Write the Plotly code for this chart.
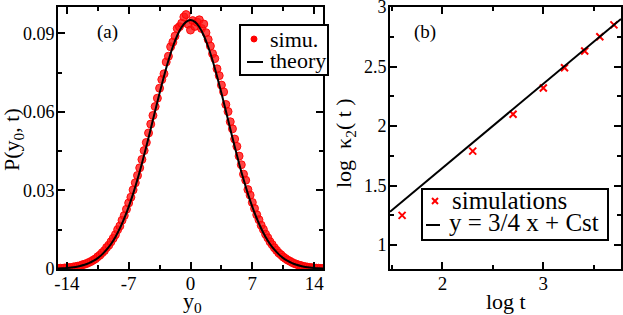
import plotly.graph_objects as go

# ---------------- Panel (a) data ----------------
sim_x = [-15.0, -14.75, -14.5, -14.25, -14.0, -13.75, -13.5, -13.25, -13.0, -12.75,
         -12.5, -12.25, -12.0, -11.75, -11.5, -11.25, -11.0, -10.75, -10.5, -10.25,
         -10.0, -9.75, -9.5, -9.25, -9.0, -8.75, -8.5, -8.25, -8.0, -7.75,
         -7.5, -7.25, -7.0, -6.75, -6.5, -6.25, -6.0, -5.75, -5.5, -5.25,
         -5.0, -4.75, -4.5, -4.25, -4.0, -3.75, -3.5, -3.25, -3.0, -2.75,
         -2.5, -2.25, -2.0, -1.75, -1.5, -1.25, -1.0, -0.75, -0.5, -0.25,
         0.0, 0.25, 0.5, 0.75, 1.0, 1.25, 1.5, 1.75, 2.0, 2.25,
         2.5, 2.75, 3.0, 3.25, 3.5, 3.75, 4.0, 4.25, 4.5, 4.75,
         5.0, 5.25, 5.5, 5.75, 6.0, 6.25, 6.5, 6.75, 7.0, 7.25,
         7.5, 7.75, 8.0, 8.25, 8.5, 8.75, 9.0, 9.25, 9.5, 9.75,
         10.0, 10.25, 10.5, 10.75, 11.0, 11.25, 11.5, 11.75, 12.0, 12.25,
         12.5, 12.75, 13.0, 13.25, 13.5, 13.75, 14.0, 14.25, 14.5, 14.75, 15.0]
sim_y = [0.0002, 0.0003, 0.0002, 0.0004, 0.0004, 0.0006, 0.0005, 0.0008, 0.0009, 0.0011,
         0.0012, 0.0016, 0.0018, 0.0021, 0.0025, 0.0029, 0.0034, 0.0039, 0.0047, 0.0053,
         0.0062, 0.0070, 0.0082, 0.0091, 0.0104, 0.0117, 0.0131, 0.0150, 0.0164, 0.0186,
         0.0204, 0.0228, 0.0252, 0.0274, 0.0302, 0.0329, 0.0357, 0.0386, 0.0418, 0.0452,
         0.0483, 0.0519, 0.0553, 0.0586, 0.0620, 0.0652, 0.0690, 0.0723, 0.0745, 0.0790,
         0.0812, 0.0848, 0.0866, 0.0889, 0.0918, 0.0925, 0.0938, 0.0962, 0.0971, 0.0934,
         0.0912, 0.0948, 0.0926, 0.0942, 0.0951, 0.0918, 0.0935, 0.0902, 0.0876, 0.0851,
         0.0822, 0.0803, 0.0764, 0.0738, 0.0702, 0.0676, 0.0628, 0.0601, 0.0562, 0.0535,
         0.0496, 0.0468, 0.0431, 0.0398, 0.0362, 0.0339, 0.0303, 0.0282, 0.0254, 0.0231,
         0.0207, 0.0188, 0.0167, 0.0151, 0.0133, 0.0119, 0.0104, 0.0093, 0.0081, 0.0071,
         0.0061, 0.0054, 0.0046, 0.0040, 0.0034, 0.0030, 0.0025, 0.0021, 0.0018, 0.0015,
         0.0013, 0.0010, 0.0009, 0.0007, 0.0006, 0.0005, 0.0004, 0.0003, 0.0003, 0.0002, 0.0002]

theory_x = [-15.0, -14.5, -14.0, -13.5, -13.0, -12.5, -12.0, -11.5, -11.0, -10.5,
            -10.0, -9.5, -9.0, -8.5, -8.0, -7.5, -7.0, -6.5, -6.0, -5.5,
            -5.0, -4.5, -4.0, -3.5, -3.0, -2.5, -2.0, -1.5, -1.0, -0.5,
            0.0, 0.5, 1.0, 1.5, 2.0, 2.5, 3.0, 3.5, 4.0, 4.5,
            5.0, 5.5, 6.0, 6.5, 7.0, 7.5, 8.0, 8.5, 9.0, 9.5,
            10.0, 10.5, 11.0, 11.5, 12.0, 12.5, 13.0, 13.5, 14.0, 14.5, 15.0]
theory_y = [0.00016, 0.00025, 0.00037, 0.00054, 0.00079, 0.00113, 0.00160, 0.00224, 0.00308, 0.00417,
            0.00558, 0.00736, 0.00956, 0.01226, 0.01548, 0.01929, 0.02369, 0.02868, 0.03424, 0.04030,
            0.04677, 0.05351, 0.06036, 0.06713, 0.07361, 0.07958, 0.08482, 0.08913, 0.09235, 0.09433,
            0.09500, 0.09433, 0.09235, 0.08913, 0.08482, 0.07958, 0.07361, 0.06713, 0.06036, 0.05351,
            0.04677, 0.04030, 0.03424, 0.02868, 0.02369, 0.01929, 0.01548, 0.01226, 0.00956, 0.00736,
            0.00558, 0.00417, 0.00308, 0.00224, 0.00160, 0.00113, 0.00079, 0.00054, 0.00037, 0.00025, 0.00016]

a_xtick_vals = [-14, -7, 0, 7, 14]
a_xtick_text = ["-14", "-7", "0", "7", "14"]
a_ytick_vals = [0, 0.03, 0.06, 0.09]
a_ytick_text = ["0", "0.03", "0.06", "0.09"]
a_legend_labels = ["simu.", "theory"]

# ---------------- Panel (b) data ----------------
sim_logt = [1.60, 2.30, 2.70, 3.00, 3.21, 3.41, 3.56, 3.70]
sim_logk = [1.25, 1.79, 2.10, 2.32, 2.49, 2.63, 2.75, 2.85]
fit_logt = [1.48, 3.77]
fit_logk = [1.28, 2.90]

b_xtick_vals = [2, 3]
b_xtick_text = ["2", "3"]
b_ytick_vals = [1, 1.5, 2, 2.5, 3]
b_ytick_text = ["1", "1.5", "2", "2.5", "3"]
b_legend_labels = ["simulations", "y = 3/4 x + Cst"]

FONT = "Liberation Serif, Times New Roman, serif"
W, H = 623, 315


def px(x):
    return x / W


def py(y):
    return 1 - y / H


fig = go.Figure()

fig.add_trace(go.Scatter(
    x=sim_x, y=sim_y, mode="markers", name=a_legend_labels[0], showlegend=False,
    marker=dict(symbol="circle", size=8, color="rgba(255,20,20,0.8)",
                line=dict(color="rgba(255,0,0,0.9)", width=1)),
    xaxis="x", yaxis="y"))
fig.add_trace(go.Scatter(
    x=theory_x, y=theory_y, mode="lines", name=a_legend_labels[1], showlegend=False,
    line_shape="spline", line=dict(color="black", width=2), xaxis="x", yaxis="y"))

fig.add_trace(go.Scatter(
    x=sim_logt, y=sim_logk, mode="markers", name=b_legend_labels[0], showlegend=False,
    marker=dict(symbol="x-thin", size=7, color="red", line=dict(color="red", width=2)),
    xaxis="x2", yaxis="y2"))
fig.add_trace(go.Scatter(
    x=fit_logt, y=fit_logk, mode="lines", name=b_legend_labels[1], showlegend=False,
    line=dict(color="black", width=2), xaxis="x2", yaxis="y2"))

axis_common = dict(
    showline=True, linecolor="black", linewidth=2, mirror="allticks",
    ticks="inside", ticklen=7, tickwidth=1.5, tickcolor="black",
    showgrid=False, zeroline=False, automargin=False, ticklabeloverflow="allow",
)
xfont = dict(family=FONT, size=19, color="black")
yfont = dict(family=FONT, size=18, color="black")

ydom = [py(269), py(7)]

shapes = [
    # legend (a) box and symbols
    dict(type="rect", xref="paper", yref="paper", x0=px(240), x1=px(328), y0=py(75), y1=py(25),
         line=dict(color="black", width=2), fillcolor="white", layer="above"),
    dict(type="circle", xref="paper", yref="paper", x0=px(251), x1=px(257), y0=py(42), y1=py(36),
         line=dict(color="red", width=1), fillcolor="red", layer="above"),
    dict(type="line", xref="paper", yref="paper", x0=px(247), x1=px(263), y0=py(62), y1=py(62),
         line=dict(color="black", width=2), layer="above"),
    # legend (b) box and symbols
    dict(type="rect", xref="paper", yref="paper", x0=px(422), x1=px(608), y0=py(240), y1=py(189),
         line=dict(color="black", width=2), fillcolor="white", layer="above"),
    dict(type="line", xref="paper", yref="paper", x0=px(432), x1=px(438), y0=py(198), y1=py(204),
         line=dict(color="red", width=2), layer="above"),
    dict(type="line", xref="paper", yref="paper", x0=px(432), x1=px(438), y0=py(204), y1=py(198),
         line=dict(color="red", width=2), layer="above"),
    dict(type="line", xref="paper", yref="paper", x0=px(426), x1=px(440), y0=py(225), y1=py(225),
         line=dict(color="black", width=2), layer="above"),
]


def ann(text, x, y, size, xanchor="center", yanchor="middle", angle=0):
    return dict(text=text, x=px(x), y=py(y), xref="paper", yref="paper", showarrow=False,
                xanchor=xanchor, yanchor=yanchor, textangle=angle,
                font=dict(family=FONT, size=size, color="black"))


annotations = [
    ann("(a)", 107, 32, 19),
    ann("(b)", 425, 32, 19),
    ann("y<sub>0</sub>", 192, 302, 22),
    ann("P(y<sub>0</sub>, t)", 13, 140, 22, angle=-90),
    ann("log t", 506, 301, 22),
    ann("log  κ<sub>2</sub>( t )", 345, 143, 22, angle=-90),
    ann(a_legend_labels[0], 268, 39, 22, xanchor="left"),
    ann(a_legend_labels[1], 268, 60, 22, xanchor="left"),
    ann(b_legend_labels[0], 450, 200, 25, xanchor="left"),
    ann(b_legend_labels[1], 447, 222, 25, xanchor="left"),
]

fig.update_layout(
    width=W, height=H,
    margin=dict(l=0, r=0, t=0, b=0, autoexpand=False),
    paper_bgcolor="white", plot_bgcolor="white",
    font=dict(family=FONT, color="black"),
    showlegend=False,
    xaxis=dict(axis_common, domain=[px(58), px(323)], range=[-15, 15], tickfont=xfont,
               tickvals=a_xtick_vals, ticktext=a_xtick_text, ticklabelstandoff=-4,
               minor=dict(ticks="inside", ticklen=4, tickwidth=1.5, dtick=3.5, tick0=0, tickcolor="black"),
               anchor="y"),
    yaxis=dict(axis_common, domain=ydom, range=[0, 0.1], tickfont=yfont,
               tickvals=a_ytick_vals, ticktext=a_ytick_text, ticklabelstandoff=-2,
               minor=dict(ticks="inside", ticklen=4, tickwidth=1.5, dtick=0.015, tick0=0, tickcolor="black"),
               anchor="x"),
    xaxis2=dict(axis_common, domain=[px(390), px(621)], range=[1.48, 3.77], tickfont=xfont,
                tickvals=b_xtick_vals, ticktext=b_xtick_text, ticklabelstandoff=-4,
                minor=dict(ticks="inside", ticklen=4, tickwidth=1.5, dtick=0.5, tick0=0, tickcolor="black"),
                anchor="y2"),
    yaxis2=dict(axis_common, domain=ydom, range=[0.8, 3.0], tickfont=yfont,
                tickvals=b_ytick_vals, ticktext=b_ytick_text, ticklabelstandoff=-2,
                minor=dict(ticks="inside", ticklen=4, tickwidth=1.5, dtick=0.25, tick0=0, tickcolor="black"),
                anchor="x2"),
    shapes=shapes,
    annotations=annotations,
)

fig.write_html("out.html", config={"displayModeBar": False},
               post_script="document.body.style.margin='0';document.body.style.padding='0';")
